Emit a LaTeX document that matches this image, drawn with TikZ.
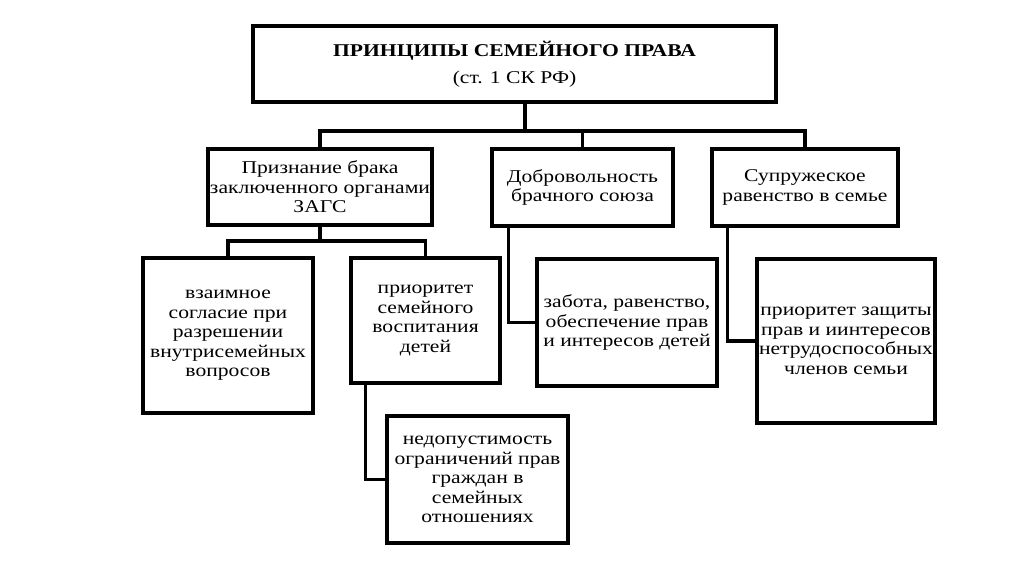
\documentclass[tikz,border=0pt]{standalone}
\usepackage{fontspec}
\setmainfont{Liberation Serif}[FakeStretch=1.2]
\begin{document}
\begin{tikzpicture}[x=1pt,y=-1pt,
    box/.style={draw,line width=3.2pt,align=center,inner sep=0pt,
      font=\fontsize{18}{19.5}\selectfont},
    link/.style={line width=3.2pt}]
    \useasboundingbox[fill=white] (0,0) rectangle (1024,574);
    % top
    \node[box,minimum width=523,minimum height=76] (top) at (514.5,64)
      {\textbf{ПРИНЦИПЫ СЕМЕЙНОГО ПРАВА}\\[8pt] (ст. 1 СК РФ)};
    % second row
    \node[box,minimum width=224,minimum height=76] (zags) at (320,187)
      {Признание брака\\ заключенного органами\\ ЗАГС};
    \node[box,minimum width=181,minimum height=77] (dobr) at (582.5,187.5)
      {Добровольность\\ брачного союза};
    \node[box,minimum width=186,minimum height=77] (ravn) at (805,187.5)
      {Супружеское\\ равенство в семье};
    % third row
    \node[box,minimum width=170,minimum height=155] (soglas) at (228,335.5)
      {взаимное\\ согласие при\\ разрешении\\ внутрисемейных\\ вопросов};
    \node[box,minimum width=149,minimum height=125] (vospit) at (425.5,320.5)
      {приоритет\\ семейного\\ воспитания\\ детей};
    \node[box,minimum width=181,minimum height=127] (nedop) at (477.5,479.5)
      {недопустимость\\ ограничений прав\\ граждан в\\ семейных\\ отношениях};
    \node[box,minimum width=180,minimum height=127] (zabota) at (627,322.5)
      {забота, равенство,\\ обеспечение прав\\ и интересов детей};
    \node[box,minimum width=178,minimum height=164] (zashch) at (846,341)
      {приоритет защиты\\ прав и иинтересов\\ нетрудоспособных\\ членов семьи};
    % connectors
    \coordinate (bus1) at (525,131);
    \coordinate (bus2) at (320,241);
    \draw[link] (bus1 |- top.south) -- (bus1);
    \draw[link] (zags.north) |- (bus1) -| (ravn.north);
    \draw[link] (dobr.north) -- (dobr.north |- bus1);
    \draw[link] (zags.south) -- (bus2);
    \draw[link] (soglas.north) |- (bus2) -| (vospit.north);
    \draw[link] ([xshift=16pt]vospit.south west) |- (nedop.west);
    \draw[link] ([xshift=18pt]dobr.south west) |- (zabota.west);
    \draw[link] ([xshift=17pt]ravn.south west) |- (zashch.west);
\end{tikzpicture}
\end{document}
